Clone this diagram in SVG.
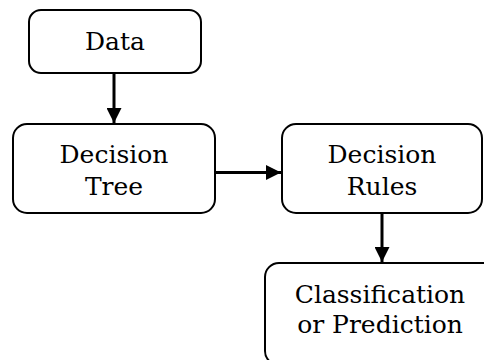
<svg xmlns="http://www.w3.org/2000/svg" width="484" height="360" viewBox="0 0 484 360">
  <style>
    .box { fill: #ffffff; stroke: #000000; stroke-width: 2; }
    .label { font-family: "DejaVu Serif", "Liberation Serif", serif; font-size: 25px; fill: #000000; text-anchor: middle; }
    .edge { stroke: #000000; stroke-width: 3; fill: none; }
  </style>
  <defs>
    <marker id="arrow" markerWidth="5" markerHeight="5" refX="5" refY="2.5" orient="auto" markerUnits="strokeWidth">
      <path d="M0,0 L5,2.5 L0,5 Z" fill="#000000"/>
    </marker>
  </defs>
  <rect width="484" height="360" fill="#ffffff"/>

  <g id="connectors">
    <line class="edge" x1="114" y1="73" x2="114" y2="123" marker-end="url(#arrow)"/>
    <line class="edge" x1="215" y1="172.5" x2="281" y2="172.5" marker-end="url(#arrow)"/>
    <line class="edge" x1="382" y1="213" x2="382" y2="262" marker-end="url(#arrow)"/>
  </g>

  <g id="node-data">
    <rect class="box" x="29" y="10" width="172" height="63" rx="12"/>
    <text class="label" x="115" y="50">Data</text>
  </g>

  <g id="node-tree">
    <rect class="box" x="13" y="124" width="202" height="89" rx="14"/>
    <text class="label" x="114" y="163">Decision</text>
    <text class="label" x="114" y="195">Tree</text>
  </g>

  <g id="node-rules">
    <rect class="box" x="282" y="124" width="200" height="89" rx="14"/>
    <text class="label" x="382" y="163">Decision</text>
    <text class="label" x="382" y="195">Rules</text>
  </g>

  <g id="node-result">
    <rect class="box" x="265" y="263" width="232" height="102" rx="14"/>
    <text class="label" x="380" y="303">Classification</text>
    <text class="label" x="380" y="333">or Prediction</text>
  </g>
</svg>
